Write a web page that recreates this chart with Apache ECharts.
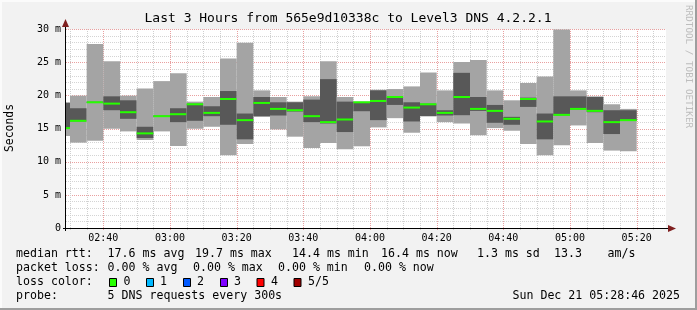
<!DOCTYPE html>
<html><head><meta charset="utf-8">
<script src="https://cdn.jsdelivr.net/npm/echarts@6/dist/echarts.min.js"></script>
<style>html,body{margin:0;padding:0;background:#f2f2f2}#c{width:697px;height:310px}</style>
</head><body><div id="c"></div>
<script>
// ---- data ----
const windowStart = "02:28:48";
const windowEnd = "05:28:48";
const binMinutes = 5;
const binEnds = ["02:30","02:35","02:40","02:45","02:50","02:55","03:00","03:05","03:10","03:15",
  "03:20","03:25","03:30","03:35","03:40","03:45","03:50","03:55","04:00","04:05",
  "04:10","04:15","04:20","04:25","04:30","04:35","04:40","04:45","04:50","04:55",
  "05:00","05:05","05:10","05:15","05:20"];
// five pings per step, sorted: ping1 (min) .. ping5 (max), in ms
const pingMin = [13.9,12.9,13.2,15.0,14.6,13.3,14.6,12.4,15.0,15.3,
  11.0,12.7,16.8,14.9,13.8,12.1,12.85,11.9,12.35,15.2,
  16.6,14.4,16.9,16.0,15.8,14.0,15.1,14.7,12.7,11.0,
  12.5,15.5,12.85,11.7,11.6];
const ping2 = [15.0,16.1,18.9,17.8,16.5,13.6,16.8,16.0,16.2,16.9,
  15.6,13.4,16.9,17.0,17.6,16.0,15.8,14.5,17.65,16.3,
  18.6,16.1,16.9,17.0,17.05,17.7,15.9,15.6,18.3,13.4,
  17.0,17.9,17.5,14.2,16.2];
const median = [15.1,16.2,19.0,18.8,17.5,14.3,16.9,17.2,18.7,17.4,
  19.5,16.3,18.9,18.0,17.8,16.9,16.0,16.4,19.0,19.2,
  19.8,18.2,18.7,17.4,19.8,18.0,17.7,16.5,19.5,16.1,
  17.1,18.0,17.7,16.0,16.3];
const ping4 = [18.9,18.1,19.1,19.9,19.3,15.3,17.0,18.1,18.8,18.4,
  20.7,17.3,19.8,19.0,19.0,19.4,22.5,19.1,19.05,20.8,
  19.85,19.0,18.8,17.8,23.45,19.8,18.6,16.8,19.7,17.3,
  19.9,19.9,19.8,17.8,17.8];
const pingMax = [19.0,20.0,27.8,25.2,20.0,21.1,22.2,23.4,19.1,19.8,
  25.6,28.0,20.8,19.8,19.1,19.9,25.2,19.8,19.1,20.9,
  21.0,21.4,23.5,20.8,25.1,25.4,20.8,19.3,21.9,22.9,
  30.2,20.8,19.9,18.7,18.0];
const xTickLabels = ["02:40","03:00","03:20","03:40","04:00","04:20","04:40","05:00","05:20"];
const yTickLabels = ["0","5 m","10 m","15 m","20 m","25 m","30 m"];
const lossLabels = ["0","1","2","3","4","5/5"];
const lossColors = ["#26ff00","#00b8ff","#0059ff","#7e00ff","#ff0000","#a10000"];
const legendLines = [
  ["median rtt:", "17.6 ms avg", "19.7 ms max", "14.4 ms min", "16.4 ms now", "1.3 ms sd", "13.3", "am/s"],
  ["packet loss:", "0.00 % avg", "0.00 % max", "0.00 % min", "0.00 % now"],
  ["probe:", "5 DNS requests every 300s"]
];
const timestamp = "Sun Dec 21 05:28:46 2025";
const titleText = "Last 3 Hours from 565e9d10338c to Level3 DNS 4.2.2.1";

// ---- helpers ----
function toMin(s){ const p = s.split(':').map(Number); return p[0]*60 + p[1] + (p[2]||0)/60; }
const axisStart = toMin(windowStart), axisEnd = toMin(windowEnd);

const smokeData = binEnds.map((t,i)=>{
  const e = toMin(t);
  return [e - binMinutes, e, pingMin[i], ping2[i], median[i], ping4[i], pingMax[i]];
});

const majorSet = new Set(xTickLabels.map(toMin));
const xGridData = [];
for (let m = Math.ceil(axisStart/binMinutes)*binMinutes; m < axisEnd; m += binMinutes) {
  xGridData.push([m, majorSet.has(m) ? 1 : 0]);
}

const MONO = '"DejaVu Sans Mono", monospace';

function renderXGrid(params, api){
  const v = api.value(0), major = api.value(1);
  const p0 = api.coord([v, 0]), p1 = api.coord([v, 30]);
  const x = Math.round(p0[0]) + 0.5;
  const children = [{
    type:'line', shape:{x1:x, y1:p0[1]+2, x2:x, y2:p1[1]},
    style:{stroke: major ? '#e9a0a0' : '#cfcfcf', lineWidth:1, lineDash:[1,1]}
  }];
  if (major) {
    const idx = xTickLabels.indexOf(binEnds.find(()=>false) || '');
    const hh = Math.floor(v/60), mm = Math.round(v%60);
    const lbl = xTickLabels.find(s => toMin(s) === v);
    children.push({type:'text', x:p0[0], y:p0[1]+10,
      style:{text: lbl, font:'10px '+MONO, fill:'#000', align:'center', verticalAlign:'middle', textAlign:'center', textVerticalAlign:'middle'}});
  }
  return {type:'group', children};
}

function renderSmoke(params, api){
  const cs = params.coordSys;
  const s = api.value(0), e = api.value(1);
  const x0 = api.coord([s,0])[0], x1 = api.coord([e,0])[0];
  const y = k => api.coord([s, api.value(k)])[1];
  const clip = r => echarts.graphic.clipRectByRect(r, {x:cs.x, y:cs.y, width:cs.width, height:cs.height});
  const out = [];
  const light = clip({x:x0, y:y(6), width:x1-x0, height:y(2)-y(6)});
  if (light) out.push({type:'rect', shape:light, style:{fill:'#a4a4a4'}});
  const dark = clip({x:x0, y:y(5), width:x1-x0, height:Math.max(y(3)-y(5),0.8)});
  if (dark) out.push({type:'rect', shape:dark, style:{fill:'#585858'}});
  const med = clip({x:x0, y:y(4)-1, width:x1-x0, height:2});
  if (med) out.push({type:'rect', shape:med, style:{fill:lossColors[0]}});
  return {type:'group', children:out};
}

// ---- graphic decorations ----
const graphics = [];
// frame
graphics.push({type:'rect', shape:{x:0,y:0,width:697,height:2}, style:{fill:'#fbfbfb'}, silent:true});
graphics.push({type:'rect', shape:{x:0,y:0,width:2,height:310}, style:{fill:'#fbfbfb'}, silent:true});
graphics.push({type:'rect', shape:{x:695,y:0,width:2,height:310}, style:{fill:'#9e9e9e'}, silent:true});
graphics.push({type:'rect', shape:{x:0,y:308,width:697,height:2}, style:{fill:'#9e9e9e'}, silent:true});
// title
graphics.push({type:'text', x:348, y:19, style:{text:titleText, font:'13px '+MONO, fill:'#000', align:'center', verticalAlign:'middle', textAlign:'center', textVerticalAlign:'middle'}});
// y axis name
graphics.push({type:'text', x:10, y:128, rotation:Math.PI/2, style:{text:'Seconds', font:'11.4px '+MONO, fill:'#000', align:'center', verticalAlign:'middle', textAlign:'center', textVerticalAlign:'middle'}});
// watermark
graphics.push({type:'text', x:688, y:5, rotation:-Math.PI/2, style:{text:'RRDTOOL / TOBI OETIKER', font:'9.3px '+MONO, fill:'#bdbdbd', align:'left', verticalAlign:'middle', textAlign:'left', textVerticalAlign:'middle'}});
// axis lines + arrows
graphics.push({type:'line', shape:{x1:65.5,y1:231,x2:65.5,y2:24}, style:{stroke:'#000', lineWidth:1}, z:10});
graphics.push({type:'line', shape:{x1:63,y1:228.5,x2:669,y2:228.5}, style:{stroke:'#000', lineWidth:1}, z:10});
graphics.push({type:'polygon', shape:{points:[[65.5,19],[62,27],[69,27]]}, style:{fill:'#7f1f1f'}, z:10});
graphics.push({type:'polygon', shape:{points:[[676,228.5],[668,225],[668,232]]}, style:{fill:'#7f1f1f'}, z:10});
// legend lines
const legendX = [
  [16, 107.6, 195, 292, 381, 477, 554, 607.6],
  [16, 107.6, 193, 278, 364],
  [16, 107.6]
];
const legendY = [254, 268, 296];
legendLines.forEach((line, li)=>{
  line.forEach((txt, k)=>{
    graphics.push({type:'text', x:legendX[li][k], y:legendY[li], style:{text:txt, font:'11.6px '+MONO, fill:'#000', align:'left', verticalAlign:'middle', textAlign:'left', textVerticalAlign:'middle'}});
  });
});
graphics.push({type:'text', x:680, y:296, style:{text:timestamp, font:'11.6px '+MONO, fill:'#000', align:'right', verticalAlign:'middle', textAlign:'right', textVerticalAlign:'middle'}});
// loss color row
graphics.push({type:'text', x:16, y:282, style:{text:'loss color:', font:'11.6px '+MONO, fill:'#000', align:'left', verticalAlign:'middle', textAlign:'left', textVerticalAlign:'middle'}});
const boxX = [109, 146, 183, 220, 256.5, 293.5];
const boxLblX = [123.5, 160, 197, 234, 271, 308];
lossLabels.forEach((lbl,i)=>{
  graphics.push({type:'rect', shape:{x:boxX[i]+0.5, y:278.5, width:7, height:8}, style:{fill:lossColors[i], stroke:'#000', lineWidth:1}});
  graphics.push({type:'text', x:boxLblX[i], y:282, style:{text:lbl, font:'11.6px '+MONO, fill:'#000', align:'left', verticalAlign:'middle', textAlign:'left', textVerticalAlign:'middle'}});
});

const chart = echarts.init(document.getElementById('c'), null, {renderer:'canvas'});
chart.setOption({
  backgroundColor:'#f2f2f2',
  animation:false,
  grid:{left:66, top:29.5, width:600, height:198.5, show:true, backgroundColor:'#ffffff', borderWidth:0},
  xAxis:{type:'value', min:axisStart, max:axisEnd, axisLine:{show:false}, axisTick:{show:false}, axisLabel:{show:false}, splitLine:{show:false}},
  yAxis:{type:'value', min:0, max:30, interval:5,
    axisLine:{show:false}, axisTick:{show:false},
    axisLabel:{formatter:v=>yTickLabels[Math.round(v/5)], fontFamily:'DejaVu Sans Mono', fontSize:10, color:'#000', margin:5},
    splitLine:{show:true, lineStyle:{color:'#e9a0a0', type:[1,1], width:1}},
    minorTick:{show:false, splitNumber:5},
    minorSplitLine:{show:true, lineStyle:{color:'#d4d4d4', type:[1,1], width:1}}
  },
  series:[
    {type:'custom', name:'xgrid', z:1, silent:true, renderItem:renderXGrid, data:xGridData},
    {type:'custom', name:'smoke', z:2, silent:true, renderItem:renderSmoke, data:smokeData, encode:{x:[0,1], y:[2,6]}}
  ],
  graphic:{elements:graphics}
});
</script></body></html>
